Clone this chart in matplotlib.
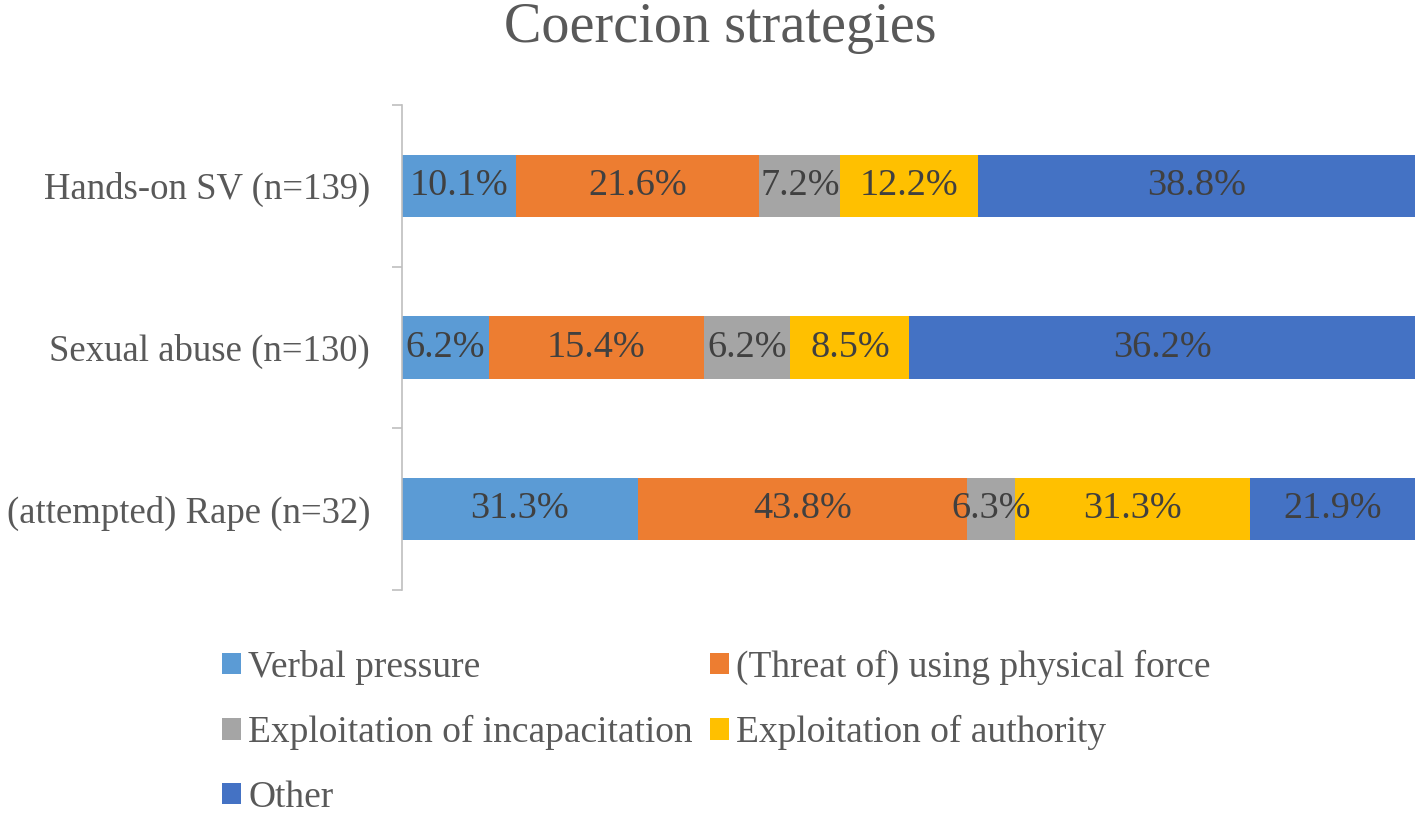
import matplotlib.pyplot as plt
import numpy as np

plt.rcParams["font.family"] = ["Liberation Serif", "DejaVu Serif"]

# 数据
groups = ['Hands-on SV (n=139)', 'Sexual abuse (n=130)', '(attempted) Rape (n=32)']
strategies = ['Verbal pressure', '(Threat of) using physical force',
              'Exploitation of incapacitation', 'Exploitation of authority', 'Other']
verbal = [10.1, 6.2, 31.3]
force = [21.6, 15.4, 43.8]
incap = [7.2, 6.2, 6.3]
authority = [12.2, 8.5, 31.3]
other = [38.8, 36.2, 21.9]
colors = ['#5B9BD5', '#ED7D31', '#A5A5A5', '#FFC000', '#4472C4']

values = np.array([verbal, force, incap, authority, other])
shares = values / values.sum(axis=0)

fig = plt.figure(figsize=(14.18, 8.14), dpi=100)
ax = fig.add_axes([0.2835, 0.2752, 0.7144, 0.5958])

y = np.arange(len(groups))
left = np.zeros(len(groups))
handles = []
for i, name in enumerate(strategies):
    bars = ax.barh(y, shares[i], left=left, height=0.385, color=colors[i], label=name)
    handles.append(bars)
    for j in range(len(groups)):
        ax.text(left[j] + shares[i][j] / 2, y[j], f'{values[i][j]:.1f}%',
                ha='center', va='center', fontsize=27.5, color='#404040')
    left += shares[i]

ax.set_xlim(0, 1)
ax.set_ylim(2.5, -0.5)
ax.set_yticks(y)
ax.set_yticklabels(groups, fontsize=26.5, color='#595959')
ax.set_yticks([-0.5, 0.5, 1.5, 2.5], minor=True)
ax.tick_params(axis='y', which='major', length=0, pad=23)
ax.tick_params(axis='y', which='minor', length=7, color='#BFBFBF', width=1.2)
ax.set_xticks([])
for s in ['top', 'right', 'bottom']:
    ax.spines[s].set_visible(False)
ax.spines['left'].set_color('#BFBFBF')
ax.spines['left'].set_linewidth(1.2)

fig.text(0.508, 1 - 28 / 814, 'Coercion strategies', ha='center', va='center',
         fontsize=40.5, color='#595959')

# 图例按行排列
order = [0, 2, 4, 1, 3]
fig.legend([handles[k] for k in order], [strategies[k] for k in order],
           loc='upper left', bbox_to_anchor=(0.1566, 0.2015), ncol=2, frameon=False,
           fontsize=27, labelcolor='#595959', handlelength=0.5, handleheight=0.5,
           handletextpad=0.2, columnspacing=0.45, labelspacing=0.8, borderpad=0,
           borderaxespad=0)

plt.savefig('out.png', dpi=100)
plt.close()
